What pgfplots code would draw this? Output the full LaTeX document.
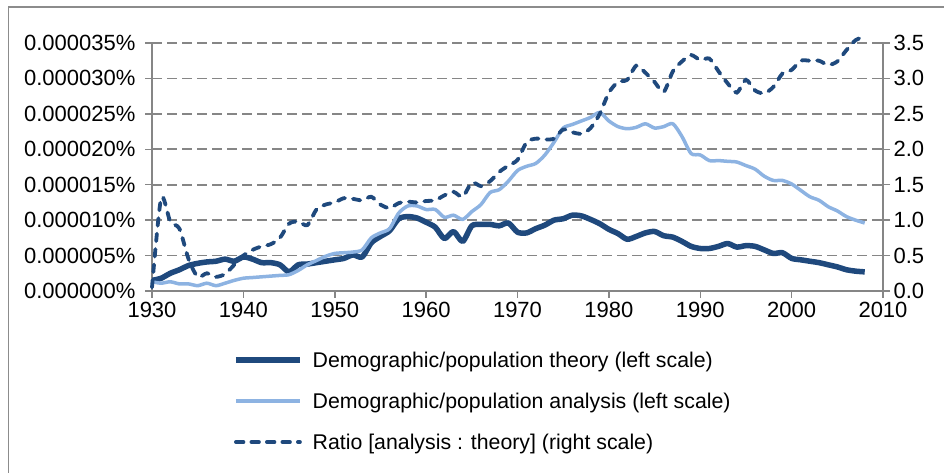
\documentclass[border=0pt]{standalone}
\usepackage{pgfplots}
\pgfplotsset{compat=1.18}
\usepackage{fontspec}
\setmainfont{Liberation Sans}
\definecolor{darkblue}{HTML}{1F497D}
\definecolor{lightblue}{HTML}{8DB3E2}
\definecolor{axisgray}{HTML}{868686}
\definecolor{framegray}{HTML}{8C8C8C}
\begin{document}
\begin{tikzpicture}
\path[use as bounding box] (0,0) rectangle (944pt,473pt);
\draw[framegray, line width=1.2pt] (8.5pt,0pt) -- (8.5pt,466pt) -- (944pt,466pt);
\pgfplotsset{
  every axis/.append style={
    at={(152pt,182pt)}, anchor=south west, scale only axis,
    width=731pt, height=248pt, xmin=1930, xmax=2010,
    axis line style={axisgray, line width=1.5pt, -},
    tick style={axisgray, line width=1.5pt},
    tick label style={font=\fontsize{22}{26}\selectfont, text=black},
    /pgf/number format/assume math mode=true,
    /pgf/number format/1000 sep={},
  },
}
\begin{axis}[
  ymin=0, ymax=3.5e-5,
  axis x line*=bottom, axis y line*=left,
  xtick={1930,1940,1950,1960,1970,1980,1990,2000,2010},
  ytick={0,0.5e-5,1e-5,1.5e-5,2e-5,2.5e-5,3e-5,3.5e-5},
  yticklabels={0.000000\%,0.000005\%,0.000010\%,0.000015\%,0.000020\%,0.000025\%,0.000030\%,0.000035\%},
  scaled y ticks=false,
  tick align=outside, major tick length=7pt,
  ymajorgrids,
  grid style={axisgray, line width=1.6pt, dash pattern=on 10pt off 5pt},
  xticklabel style={yshift=-1pt},
  yticklabel style={xshift=-6pt},
]
% Demographic/population theory (left scale, percent)
\addplot[darkblue, line width=5.5pt, smooth, tension=0.45, line join=round] coordinates {
(1930,0.15e-5)(1931,0.18e-5)(1932,0.25e-5)(1933,0.30e-5)(1934,0.36e-5)(1935,0.39e-5)
(1936,0.41e-5)(1937,0.42e-5)(1938,0.45e-5)(1939,0.42e-5)(1940,0.48e-5)(1941,0.45e-5)
(1942,0.40e-5)(1943,0.40e-5)(1944,0.37e-5)(1945,0.27e-5)(1946,0.37e-5)(1947,0.38e-5)
(1948,0.40e-5)(1949,0.42e-5)(1950,0.44e-5)(1951,0.46e-5)(1952,0.51e-5)(1953,0.48e-5)
(1954,0.68e-5)(1955,0.77e-5)(1956,0.85e-5)(1957,1.02e-5)(1958,1.05e-5)(1959,1.03e-5)
(1960,0.97e-5)(1961,0.90e-5)(1962,0.74e-5)(1963,0.84e-5)(1964,0.70e-5)(1965,0.92e-5)
(1966,0.94e-5)(1967,0.94e-5)(1968,0.92e-5)(1969,0.96e-5)(1970,0.83e-5)(1971,0.82e-5)
(1972,0.88e-5)(1973,0.93e-5)(1974,1.00e-5)(1975,1.02e-5)(1976,1.07e-5)(1977,1.06e-5)
(1978,1.01e-5)(1979,0.95e-5)(1980,0.87e-5)(1981,0.81e-5)(1982,0.73e-5)(1983,0.77e-5)
(1984,0.82e-5)(1985,0.84e-5)(1986,0.78e-5)(1987,0.76e-5)(1988,0.70e-5)(1989,0.63e-5)
(1990,0.60e-5)(1991,0.60e-5)(1992,0.63e-5)(1993,0.67e-5)(1994,0.62e-5)(1995,0.64e-5)
(1996,0.63e-5)(1997,0.58e-5)(1998,0.53e-5)(1999,0.54e-5)(2000,0.46e-5)(2001,0.44e-5)
(2002,0.42e-5)(2003,0.40e-5)(2004,0.37e-5)(2005,0.34e-5)(2006,0.30e-5)(2007,0.28e-5)
(2008,0.27e-5)
};
% Demographic/population analysis (left scale, percent)
\addplot[lightblue, line width=3.5pt, smooth, tension=0.45, line join=round] coordinates {
(1930,0.13e-5)(1931,0.11e-5)(1932,0.13e-5)(1933,0.10e-5)(1934,0.10e-5)(1935,0.075e-5)
(1936,0.11e-5)(1937,0.075e-5)(1938,0.11e-5)(1939,0.15e-5)(1940,0.18e-5)(1941,0.19e-5)
(1942,0.20e-5)(1943,0.21e-5)(1944,0.22e-5)(1945,0.23e-5)(1946,0.29e-5)(1947,0.37e-5)
(1948,0.43e-5)(1949,0.49e-5)(1950,0.53e-5)(1951,0.54e-5)(1952,0.55e-5)(1953,0.58e-5)
(1954,0.75e-5)(1955,0.82e-5)(1956,0.88e-5)(1957,1.10e-5)(1958,1.20e-5)(1959,1.20e-5)
(1960,1.15e-5)(1961,1.15e-5)(1962,1.04e-5)(1963,1.07e-5)(1964,1.01e-5)(1965,1.12e-5)
(1966,1.22e-5)(1967,1.39e-5)(1968,1.43e-5)(1969,1.55e-5)(1970,1.70e-5)(1971,1.76e-5)
(1972,1.80e-5)(1973,1.92e-5)(1974,2.10e-5)(1975,2.30e-5)(1976,2.35e-5)(1977,2.40e-5)
(1978,2.45e-5)(1979,2.52e-5)(1980,2.40e-5)(1981,2.32e-5)(1982,2.29e-5)(1983,2.31e-5)
(1984,2.36e-5)(1985,2.30e-5)(1986,2.32e-5)(1987,2.36e-5)(1988,2.18e-5)(1989,1.94e-5)
(1990,1.92e-5)(1991,1.84e-5)(1992,1.84e-5)(1993,1.83e-5)(1994,1.82e-5)(1995,1.77e-5)
(1996,1.72e-5)(1997,1.62e-5)(1998,1.56e-5)(1999,1.56e-5)(2000,1.51e-5)(2001,1.42e-5)
(2002,1.33e-5)(2003,1.28e-5)(2004,1.19e-5)(2005,1.13e-5)(2006,1.05e-5)(2007,1.00e-5)
(2008,0.96e-5)
};
\end{axis}
\begin{axis}[
  ymin=0, ymax=3.5, clip=false,
  axis y line*=right, axis x line=none,
  ytick={0,0.5,1,1.5,2,2.5,3,3.5},
  yticklabel style={/pgf/number format/.cd, fixed, fixed zerofill, precision=1},
  tick align=center, major tick length=14pt,
  legend image code/.code={\draw[#1] (0pt,0pt) -- (64pt,0pt);},
  legend style={at={(axis description cs:0.1108,-0.232)}, anchor=north west,
    draw=none, fill=none, font=\fontsize{21.3}{25}\selectfont,
    inner sep=0pt, row sep=18pt, column sep=7pt,
    nodes={inner sep=3pt}},
  legend cell align=left,
]
\addlegendimage{darkblue, line width=5.5pt}
\addlegendentry{Demographic/population theory (left scale)}
\addlegendimage{lightblue, line width=3.5pt}
\addlegendentry{Demographic/population analysis (left scale)}
% Ratio [analysis : theory] (right scale)
\addplot[darkblue, line width=3.8pt, smooth, tension=0.45, line cap=round, dash pattern=on 7.5pt off 8pt] coordinates {
(1930,0.05)(1931,1.31)(1932,0.98)(1933,0.88)(1934,0.45)(1935,0.20)
(1936,0.25)(1937,0.20)(1938,0.24)(1939,0.37)(1940,0.50)(1941,0.58)
(1942,0.63)(1943,0.66)(1944,0.75)(1945,0.95)(1946,0.98)(1947,0.93)
(1948,1.15)(1949,1.22)(1950,1.25)(1951,1.31)(1952,1.30)(1953,1.28)
(1954,1.33)(1955,1.22)(1956,1.17)(1957,1.24)(1958,1.26)(1959,1.25)
(1960,1.27)(1961,1.28)(1962,1.35)(1963,1.40)(1964,1.33)(1965,1.53)
(1966,1.48)(1967,1.55)(1968,1.68)(1969,1.77)(1970,1.85)(1971,2.10)
(1972,2.15)(1973,2.14)(1974,2.15)(1975,2.28)(1976,2.24)(1977,2.22)
(1978,2.30)(1979,2.50)(1980,2.80)(1981,2.95)(1982,2.98)(1983,3.18)
(1984,3.08)(1985,2.95)(1986,2.81)(1987,3.10)(1988,3.24)(1989,3.33)
(1990,3.26)(1991,3.28)(1992,3.10)(1993,2.93)(1994,2.80)(1995,2.98)
(1996,2.83)(1997,2.79)(1998,2.88)(1999,3.07)(2000,3.12)(2001,3.25)
(2002,3.25)(2003,3.25)(2004,3.19)(2005,3.24)(2006,3.40)(2007,3.54)
(2008,3.59)
};
\addlegendentry{Ratio [analysis : theory] (right scale)}
\end{axis}
\end{tikzpicture}
\end{document}
